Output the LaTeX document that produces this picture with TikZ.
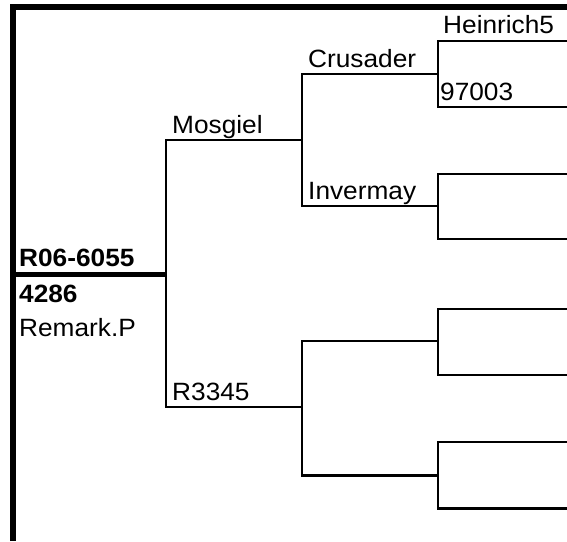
\documentclass[tikz,border=0pt]{standalone}
\usepackage{fontspec}
\setmainfont[FakeStretch=1.05]{Liberation Sans}
\begin{document}
\begin{tikzpicture}[x=1pt,y=-1pt,
  branch/.style={line width=2.4pt,line cap=rect},
  heavy/.style={line width=5.5pt},
  lbl/.style={anchor=base west,inner sep=0pt,font=\fontsize{25}{30}\selectfont},
  blbl/.style={lbl,font=\fontsize{25}{30}\selectfont\bfseries}]
\useasboundingbox (0,0) rectangle (567,541);
% frame
\coordinate (fb) at (13,541);
\coordinate (fc) at (13,7);
\coordinate (fr) at (567,7);
\draw[heavy] (fb) -- (fc) -- (fr);
% root
\coordinate (r0) at (13,274.5);
\coordinate (r1) at (166,274.5);
\draw[heavy] (r0) -- (r1);
% level 1
\coordinate (a1) at (166,140);
\coordinate (a2) at (166,407);
\coordinate (m2) at (302,140);
\coordinate (s2) at (302,407);
\draw[branch] (a1) -- (a2);
\draw[branch] (a1) -- (m2);
\draw[branch] (a2) -- (s2);
% level 2
\coordinate (b1) at (302,74);
\coordinate (b2) at (302,206);
\coordinate (b3) at (302,341);
\coordinate (b4) at (302,475.5);
\coordinate (c1) at (438,74);
\coordinate (c2) at (438,206);
\coordinate (c3) at (438,341);
\coordinate (c4) at (438,475.5);
\draw[branch] (b1) -- (b2);
\draw[branch] (b3) -- (b4);
\draw[branch] (b1) -- (c1);
\draw[branch] (b2) -- (c2);
\draw[branch] (b3) -- (c3);
\draw[branch] (b4) -- (c4);
% level 3
\foreach \n/\ya/\yb in {1/40.7/106.7,2/174/239,3/309/375,4/441.7/508.3}{
  \coordinate (d\n t) at (438,\ya);
  \coordinate (d\n b) at (438,\yb);
  \coordinate (e\n t) at (567,\ya);
  \coordinate (e\n b) at (567,\yb);
  \draw[branch] (d\n t) -- (d\n b);
  \draw[branch] (d\n t) -- (e\n t);
  \draw[branch] (d\n b) -- (e\n b);
}
% labels
\node[blbl] (n1) at (19,266) {R06-6055};
\node[blbl] (n2) at (19,302) {4286};
\node[lbl] (n3) at (19,336) {Remark.P};
\node[lbl] (n4) at (172,133) {Mosgiel};
\node[lbl] (n5) at (172,400) {R3345};
\node[lbl] (n6) at (308,67) {Crusader};
\node[lbl] (n7) at (308,199) {Invermay};
\node[lbl] (n8) at (443,33) {Heinrich5};
\node[lbl] (n9) at (440,100) {97003};
\end{tikzpicture}
\end{document}
